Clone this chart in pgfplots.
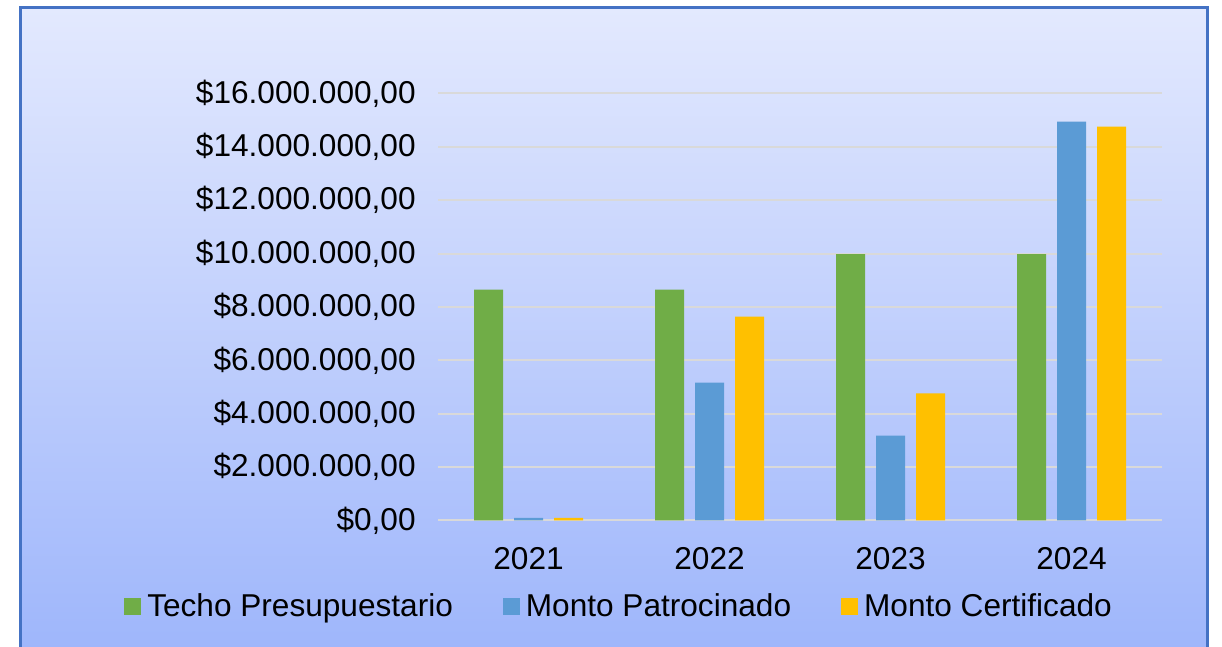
\documentclass[border=0pt]{standalone}
\usepackage{fontspec}
\setmainfont{Liberation Sans}
\usepackage{pgfplots}
\pgfplotsset{compat=1.18}
\definecolor{cgreen}{HTML}{70AD47}
\definecolor{cblue}{HTML}{5B9BD5}
\definecolor{cyellow}{HTML}{FFC000}
\definecolor{bgtop}{HTML}{E3E9FE}
\definecolor{bgbot}{HTML}{9DB5FB}
\definecolor{cborder}{HTML}{4472C4}
\definecolor{cgrid}{HTML}{D9D9D9}
\begin{document}
\begin{tikzpicture}[x=1pt,y=1pt]
\path[use as bounding box] (0,0) rectangle (611,323.5);
\clip (0,0) rectangle (611,323.5);
\fill[white] (0,0) rectangle (611,323.5);
\shade[top color=bgtop, bottom color=bgbot] (10,-8) rectangle (603.5,319.5);
\draw[cborder, line width=1.5pt] (10,-8) rectangle (603.5,319.5);
\begin{axis}[
  at={(242,47.4)}, anchor=south west,
  scale only axis, width=362pt, height=213.5pt,
  xmin=-0.5, xmax=3.5, ymin=0, ymax=16,
  ybar=5.5pt, bar width=14.5pt,
  xtick={0,1,2,3}, xticklabels={2021,2022,2023,2024},
  ytick={0,2,4,6,8,10,12,14,16},
  yticklabels={{\$0,00},{\$2.000.000,00},{\$4.000.000,00},{\$6.000.000,00},{\$8.000.000,00},{\$10.000.000,00},{\$12.000.000,00},{\$14.000.000,00},{\$16.000.000,00}},
  major tick length=0pt,
  axis line style={draw=none},
  ymajorgrids, grid style={cgrid, line width=1pt},
  tick label style={font=\fontsize{15.8}{19}\selectfont, text=black},
  yticklabel style={anchor=east, inner sep=0pt, xshift=-11pt},
  xticklabel style={anchor=north, inner sep=0pt, yshift=-13.5pt},
  legend columns=3,
  legend style={draw=none, fill=none, at={(0.2514,-0.2014)}, anchor=center,
    font=\fontsize{15.8}{19}\selectfont, inner sep=0pt,
    /tikz/every even column/.append style={column sep=23pt}},
  legend cell align=left,
  legend image code/.code={\fill[#1] (0pt,-4.25pt) rectangle (8.5pt,4.25pt);},
]
\addplot[fill=cgreen, draw=none] coordinates {(0,8.65) (1,8.65) (2,9.98) (3,9.98)};
\addplot[fill=cblue, draw=none] coordinates {(0,0.1) (1,5.17) (2,3.18) (3,14.95)};
\addplot[fill=cyellow, draw=none] coordinates {(0,0.1) (1,7.64) (2,4.76) (3,14.76)};
\legend{\hspace{1pt}Techo Presupuestario, \hspace{1pt}Monto Patrocinado, \hspace{1pt}Monto Certificado}
\end{axis}
\end{tikzpicture}
\end{document}
